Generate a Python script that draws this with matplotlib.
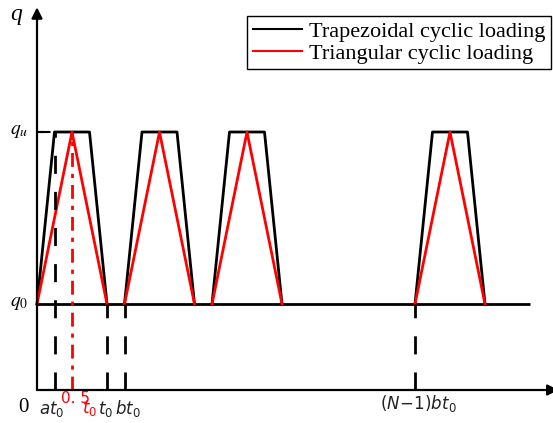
import matplotlib.pyplot as plt

# load levels and timing (in units of t0)
Q0 = 1.0
QU = 3.0
A = 0.25          # rise time fraction a
TOP_END = 0.75    # end of the hold phase
B = 1.25          # period factor b
CYCLE_STARTS = [0.0, 1.25, 2.5, 5.4]
BASE_END = 7.04

fig = plt.figure(figsize=(5.53, 4.23), dpi=100)
ax = fig.add_axes([0, 0, 1, 1])
ax.axis('off')
ax.set_xlim(-37 / 70, 516 / 70)
ax.set_ylim(-33 / 86, 390 / 86)

lw = 2.0
# axes with arrow heads
ax.annotate('', xy=(0, 4.45), xytext=(0, 0),
            arrowprops=dict(arrowstyle='-|>', lw=1.6, color='k', mutation_scale=16,
                            shrinkA=0, shrinkB=0), annotation_clip=False)
ax.annotate('', xy=(7.45, 0), xytext=(0, 0),
            arrowprops=dict(arrowstyle='-|>', lw=1.6, color='k', mutation_scale=16,
                            shrinkA=0, shrinkB=0), annotation_clip=False)

# base level q0
ax.plot([0, BASE_END], [Q0, Q0], color='k', lw=lw, solid_capstyle='butt')

for i, s in enumerate(CYCLE_STARTS):
    tx = [s, s + A, s + TOP_END, s + 1.0]
    ty = [Q0, QU, QU, Q0]
    ax.plot(tx, ty, color='k', lw=lw, label='Trapezoidal cyclic loading' if i == 0 else None)
    rx = [s, s + 0.5, s + 1.0]
    ry = [Q0, QU, Q0]
    ax.plot(rx, ry, color='red', lw=lw, label='Triangular cyclic loading' if i == 0 else None)

# guide lines
dash = (0, (6.5, 6.5))
ax.plot([0, A], [QU, QU], color='k', lw=1.5, linestyle=dash)
ax.plot([0.0, 0.08], [QU, QU], color='k', lw=1.5)
ax.plot([A, A], [0, QU], color='k', lw=2, linestyle=dash)
for x in [1.0, B, CYCLE_STARTS[-1]]:
    ax.plot([x, x], [0, Q0], color='k', lw=2, linestyle=dash)
ax.plot([0.5, 0.5], [0, QU], color='red', lw=2, linestyle=(0, (5, 2.5, 1.5, 2.5)))

# labels
serif = 'Liberation Serif'
sans = 'DejaVu Sans'
ax.text(-0.3, 4.37, 'q', fontsize=17, family=serif, style='italic', ha='center', va='center')
ax.text(-0.26, QU + 0.02, r'$q_u$', fontsize=14, ha='center', va='center',
        math_fontfamily='stix')
ax.text(-0.26, Q0 + 0.02, r'$q_0$', fontsize=14, ha='center', va='center',
        math_fontfamily='stix')
ax.text(-0.2, -0.2, '0', fontsize=15, family=serif, ha='center', va='center')

ly = -0.22
ax.text(A - 0.04, ly, r'$at_0$', fontsize=12, ha='center', va='center', color='#222222',
        math_fontfamily='dejavusans')
ax.text(0.55, -0.1, '0. 5', fontsize=11, family=sans, ha='center', va='center', color='red')
ax.text(0.75, -0.21, r'$t_0$', fontsize=12, ha='center', va='center', color='red',
        math_fontfamily='dejavusans')
ax.text(1.0 - 0.02, ly, r'$t_0$', fontsize=12, ha='center', va='center', color='#222222',
        math_fontfamily='dejavusans')
ax.text(B + 0.05, ly, r'$bt_0$', fontsize=12, ha='center', va='center', color='#222222',
        math_fontfamily='dejavusans')
ax.text(CYCLE_STARTS[-1] + 0.05, -0.16, r'$(N\!-\!1)bt_0$', fontsize=12, ha='center', va='center',
        color='#222222', math_fontfamily='dejavusans')

leg = ax.legend(loc='upper left', bbox_to_anchor=(0.447, 0.962), borderaxespad=0,
                prop={'family': serif, 'size': 16}, fancybox=False, framealpha=1,
                edgecolor='k', labelspacing=0.05, borderpad=0.25,
                handlelength=2.2, handletextpad=0.35)
leg.get_frame().set_linewidth(1.0)
for h in leg.get_lines():
    h.set_linewidth(1.5)

fig.savefig('out.png', dpi=100)
